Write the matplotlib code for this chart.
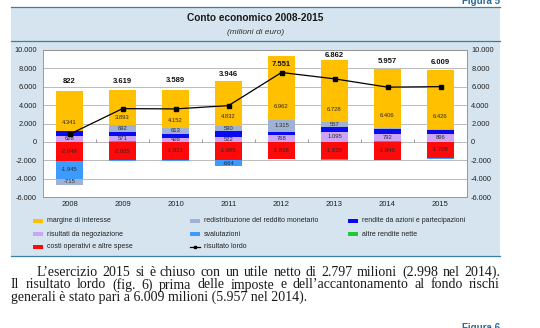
import matplotlib
matplotlib.use("Agg")
import matplotlib.pyplot as plt
from matplotlib.patches import Rectangle
from matplotlib.lines import Line2D
import numpy as np

plt.rcParams['font.family'] = ['Liberation Sans', 'DejaVu Sans']

W, H = 540, 328

years = ['2008', '2009', '2010', '2011', '2012', '2013', '2014', '2015']
margine = [4341, 3893, 4152, 4832, 6962, 6728, 6406, 6426]
redistribuzione = [-715, 692, 613, 590, 1315, 557, 110, 100]
rendite = [552, 470, 470, 651, 344, 480, 530, 445]
negoziazione = [628, 571, 426, 522, 768, 1095, 792, 896]
valutazioni = [-1945, -62, -151, -664, 0, -163, -30, -150]
altre = [10, 60, 0, 0, 0, 0, 97, 0]
costi = [-2049, -2005, -1921, -1985, -1838, -1835, -1948, -1708]
risultato = [822, 3619, 3589, 3946, 7551, 6862, 5957, 6009]

# heights of the bold totals above the bars
total_label_y = [6550, 6550, 6650, 7300, 8400, 9400, 8750, 8600]

C_MARG = '#FFC000'
C_REDI = '#9FB2D4'
C_REND = '#0A0AF0'
C_NEGO = '#CCA6F5'
C_VALU = '#3D9BFF'
C_ALTR = '#1DCC33'
C_COST = '#FF0A0A'
PANEL = '#D5E4EE'
EDGE = '#3B7DA6'


def fx(x):
    return x / W


def fy(y):
    return 1 - y / H


def fmt(v):
    s = f"{abs(int(round(v))):,}".replace(',', '.')
    return '-' + s if v < 0 else s


fig = plt.figure(figsize=(W / 100, H / 100), dpi=100)
fig.patch.set_facecolor('white')

# light blue frame behind the chart
fig.patches.append(Rectangle((fx(11), fy(256)), fx(500) - fx(11), fy(7) - fy(256),
                             transform=fig.transFigure, facecolor=PANEL, edgecolor='none', zorder=-5))
for yy in (7, 41, 256):
    fig.add_artist(Line2D([fx(11), fx(500)], [fy(yy), fy(yy)], transform=fig.transFigure,
                          color=EDGE, lw=0.9, zorder=1))

fig.text(fx(500), fy(4), 'Figura 5', ha='right', va='baseline', fontsize=7,
         fontweight='bold', color='#2A6A99')
fig.text(fx(255.5), fy(18), 'Conto economico 2008-2015', ha='center', va='center',
         fontsize=7.3, fontweight='bold', color='#1a1a1a')
fig.text(fx(255.5), fy(32), '(milioni di euro)', ha='center', va='center',
         fontsize=6, style='italic', color='#333333')

ax = fig.add_axes([fx(43), fy(197), fx(467) - fx(43), fy(50) - fy(197)])
ax.set_zorder(2)
ax.set_facecolor('white')
x = np.arange(len(years))
bw = 0.51

# positive components, stacked upward from zero
pos_series = [(altre, C_ALTR), (negoziazione, C_NEGO), (rendite, C_REND),
              (redistribuzione, C_REDI), (margine, C_MARG)]
# negative components, stacked downward from zero
neg_series = [(costi, C_COST), (valutazioni, C_VALU), (redistribuzione, C_REDI)]

pos_base = np.zeros(len(years))
neg_base = np.zeros(len(years))
segs = {}
for vals, col in pos_series:
    v = np.clip(np.array(vals, dtype=float), 0, None)
    ax.bar(x, v, bw, bottom=pos_base, color=col, zorder=3, linewidth=0)
    segs[(col, 'p')] = (pos_base.copy(), v)
    pos_base += v
for vals, col in neg_series:
    v = np.clip(np.array(vals, dtype=float), None, 0)
    ax.bar(x, v, bw, bottom=neg_base, color=col, zorder=3, linewidth=0)
    segs[(col, 'n')] = (neg_base.copy(), v)
    neg_base += v

lab_kw = dict(ha='center', va='center', fontsize=4.2, color='#2a2a2a', zorder=5)
for i in range(len(years)):
    b, v = segs[(C_MARG, 'p')]
    ax.text(x[i], b[i] + 0.21 * v[i], fmt(margine[i]), **lab_kw)
    b, v = segs[(C_NEGO, 'p')]
    ax.text(x[i], b[i] + v[i] / 2, fmt(negoziazione[i]), **lab_kw)
    b, v = segs[(C_COST, 'n')]
    ax.text(x[i], b[i] + v[i] / 2, fmt(costi[i]), **lab_kw)
    if abs(redistribuzione[i]) >= 500:
        key = (C_REDI, 'p') if redistribuzione[i] > 0 else (C_REDI, 'n')
        b, v = segs[key]
        ax.text(x[i], b[i] + v[i] / 2, fmt(redistribuzione[i]), **lab_kw)
    if abs(valutazioni[i]) >= 500:
        b, v = segs[(C_VALU, 'n')]
        ax.text(x[i], b[i] + v[i] / 2, fmt(valutazioni[i]), **lab_kw)
    ax.text(x[i], total_label_y[i], fmt(risultato[i]), ha='center', va='center',
            fontsize=5.5, fontweight='bold', color='#111111', zorder=5)

ax.plot(x, risultato, color='black', lw=0.9, marker='s', ms=2.2, zorder=6)

# category separators on the zero line
ax.vlines(x[:-1] + 0.5, 0, 320, color='#888888', lw=0.6, zorder=2)

ax.set_xlim(-0.5, len(years) - 0.5)
ax.set_ylim(-6000, 10000)
yt = np.arange(-6000, 10001, 2000)
ax.set_yticks(yt)
ax.set_yticklabels([fmt(t) for t in yt])
ax.set_xticks(x)
ax.set_xticklabels(years)
ax.tick_params(axis='y', length=0, pad=4.3, labelsize=5.3, labelcolor='#222222')
ax.tick_params(axis='x', length=0, pad=3, labelsize=5.5, labelcolor='#222222')
ax.yaxis.grid(True, color='#A0A0A0', lw=0.5, zorder=1)
ax.set_axisbelow(True)
for sp in ax.spines.values():
    sp.set_color('#8C8C8C')
    sp.set_linewidth(0.6)

ax2 = ax.twinx()
ax2.set_zorder(1)
ax2.set_ylim(-6000, 10000)
ax2.set_yticks(yt)
ax2.set_yticklabels([fmt(t) for t in yt])
ax2.tick_params(axis='y', length=0, pad=3, labelsize=5.3, labelcolor='#222222')
for sp in ax2.spines.values():
    sp.set_visible(False)

# legend laid out in three columns
legend_items = [
    ('margine di interesse', C_MARG, 0, 0),
    ('redistribuzione del reddito monetario', C_REDI, 1, 0),
    ('rendite da azioni e partecipazioni', C_REND, 2, 0),
    ('risultati da negoziazione', C_NEGO, 0, 1),
    ('svalutazioni', C_VALU, 1, 1),
    ('altre rendite nette', C_ALTR, 2, 1),
    ('costi operativi e altre spese', C_COST, 0, 2),
    ('risultato lordo', None, 1, 2),
]
col_x = [33, 190, 348]
row_y = [221, 234, 247]
for name, col, c, r in legend_items:
    lx, ly = col_x[c], row_y[r]
    if col is None:
        fig.add_artist(Line2D([fx(lx), fx(lx + 10)], [fy(ly), fy(ly)],
                              transform=fig.transFigure, color='black', lw=0.9, zorder=3))
        fig.add_artist(Line2D([fx(lx + 5)], [fy(ly)], transform=fig.transFigure,
                              color='black', marker='s', ms=2.0, lw=0, zorder=3))
    else:
        fig.patches.append(Rectangle((fx(lx), fy(ly + 2)), fx(10), 4 / H,
                                     transform=fig.transFigure, facecolor=col,
                                     edgecolor='none', zorder=3))
    fig.text(fx(lx + 14), fy(ly), name, ha='left', va='center', fontsize=5,
             color='#222222')

# paragraph under the chart
serif = ['Liberation Serif', 'DejaVu Serif']
para_size = 10
lines = [
    ('L’esercizio 2015 si è chiuso con un utile netto di 2.797 milioni (2.998 nel 2014).', 37, 500, 276, True),
    ('Il risultato lordo (fig. 6) prima delle imposte e dell’accantonamento al fondo rischi', 11, 500, 288.5, True),
    ('generali è stato pari a 6.009 milioni (5.957 nel 2014).', 11, 500, 301, False),
]
renderer = fig.canvas.get_renderer()
for txt, x0, x1, yy, justify in lines:
    if not justify:
        fig.text(fx(x0), fy(yy), txt, ha='left', va='baseline', fontsize=para_size,
                 family=serif, color='#1a1a1a')
        continue
    words = txt.split(' ')
    objs = [fig.text(0, fy(yy), w, ha='left', va='baseline', fontsize=para_size,
                     family=serif, color='#1a1a1a') for w in words]
    widths = [o.get_window_extent(renderer).width for o in objs]
    gap = (x1 - x0 - sum(widths)) / (len(words) - 1)
    cur = x0
    for o, w in zip(objs, widths):
        o.set_x(fx(cur))
        cur += w + gap

fig.text(fx(500), fy(323), 'Figura 6', ha='right', va='top', fontsize=7,
         fontweight='bold', color='#2A6A99')

fig.savefig('out.png', dpi=100)
